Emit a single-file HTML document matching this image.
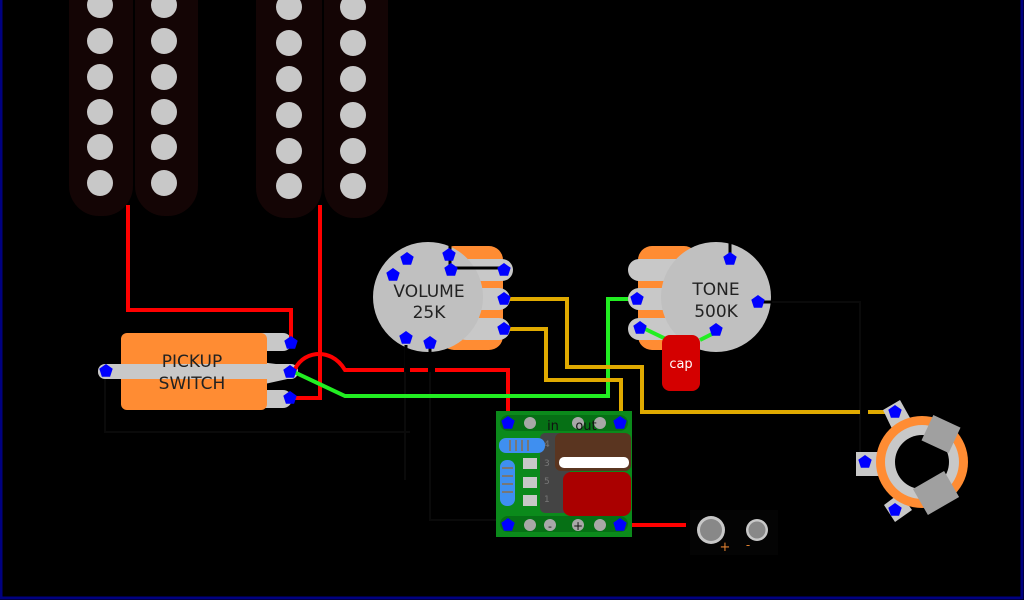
<!DOCTYPE html>
<html><head><meta charset="utf-8"><style>
html,body{margin:0;padding:0;background:#000;}
svg{display:block}
text{font-family:"DejaVu Sans","Liberation Sans",sans-serif;}
</style></head><body>
<svg width="1024" height="600" viewBox="0 0 1024 600" xmlns="http://www.w3.org/2000/svg">
<defs>
<g id="st"><polygon points="0,-7 6.7,-2.2 4.1,5.7 -4.1,5.7 -6.7,-2.2" fill="#0000ff"/><circle r="4.6" fill="#0000ff"/></g>
</defs>
<rect width="1024" height="600" fill="#000"/>
<rect x="1" y="-2" width="1021" height="600" fill="none" stroke="#000080" stroke-width="3"/>
<!-- pickups -->
<g fill="#140505">
<rect x="69" y="-40" width="64" height="256" rx="30"/>
<rect x="135" y="-40" width="63" height="256" rx="30"/>
<rect x="256" y="-40" width="66" height="258" rx="30"/>
<rect x="324" y="-40" width="64" height="258" rx="30"/>
</g>
<g fill="#c8c8c8">
<circle cx="100" cy="5" r="13"/><circle cx="100" cy="41" r="13"/><circle cx="100" cy="77" r="13"/><circle cx="100" cy="112" r="13"/><circle cx="100" cy="147" r="13"/><circle cx="100" cy="183" r="13"/>
<circle cx="164" cy="5" r="13"/><circle cx="164" cy="41" r="13"/><circle cx="164" cy="77" r="13"/><circle cx="164" cy="112" r="13"/><circle cx="164" cy="147" r="13"/><circle cx="164" cy="183" r="13"/>
<circle cx="289" cy="7" r="13"/><circle cx="289" cy="43" r="13"/><circle cx="289" cy="79" r="13"/><circle cx="289" cy="115" r="13"/><circle cx="289" cy="151" r="13"/><circle cx="289" cy="186" r="13"/>
<circle cx="353" cy="7" r="13"/><circle cx="353" cy="43" r="13"/><circle cx="353" cy="79" r="13"/><circle cx="353" cy="115" r="13"/><circle cx="353" cy="151" r="13"/><circle cx="353" cy="186" r="13"/>
</g>
<!-- thin black/dark wires -->
<g stroke="#0a0a0a" stroke-width="2" fill="none">
<path d="M105 372 V432 H410"/><path d="M405 340 V480"/><path d="M430 340 V520 H508"/>
<path d="M760 302 H860 V462"/>
</g>
<!-- pickup switch -->
<rect x="186" y="333" width="106" height="18" rx="9" fill="#c8c8c8"/>
<rect x="186" y="390" width="106" height="18" rx="9" fill="#c8c8c8"/>
<path d="M260 362 L292 366 L292 378 L260 385 Z" fill="#c8c8c8"/>
<rect x="121" y="333" width="146" height="77" rx="6" fill="#ff8c33"/>
<rect x="98" y="364" width="200" height="15" rx="7" fill="#c8c8c8"/>
<text x="192" y="367" font-size="17" text-anchor="middle" fill="#222">PICKUP</text>
<text x="192" y="389" font-size="17" text-anchor="middle" fill="#222">SWITCH</text>
<!-- red wires -->
<g stroke="#ff0000" stroke-width="4" fill="none">
<path d="M128 205 V310 H291 V343"/>
<path d="M320 205 V398 H294"/>
<path d="M294 372 C300 352 330 345 345 370 H404 M410 370 H428 M435 370 H508 V420"/>
<path d="M621 525 H686"/>
</g>
<!-- green -->
<path d="M294 372 L345 396 H608 V299 H632" stroke="#22ee22" stroke-width="4" fill="none"/>
<!-- yellow -->
<g stroke="#e0aa00" stroke-width="4" fill="none">
<path d="M503 299 H567 V367 H642 V412 H860 M868 412 H893"/>
<path d="M503 329 H546 V380 H621 V420"/>
</g>
<!-- volume pot -->
<rect x="440" y="246" width="63" height="104" rx="14" fill="#ff8c33"/>
<rect x="455" y="259" width="58" height="22" rx="11" fill="#c8c8c8"/>
<rect x="455" y="288" width="55" height="22" rx="11" fill="#c8c8c8"/>
<rect x="455" y="318" width="55" height="22" rx="11" fill="#c8c8c8"/>
<circle cx="428" cy="297" r="55" fill="#c0c0c0"/>
<path d="M450 245 V268 H503" stroke="#000" stroke-width="3" fill="none"/>
<path d="M406 345 V372 M430 345 V372" stroke="#000" stroke-width="3"/>
<text x="429" y="297" font-size="17" text-anchor="middle" fill="#222">VOLUME</text>
<text x="429" y="318" font-size="17" text-anchor="middle" fill="#222">25K</text>
<!-- tone pot -->
<rect x="638" y="246" width="60" height="104" rx="14" fill="#ff8c33"/>
<rect x="628" y="259" width="70" height="22" rx="11" fill="#c8c8c8"/>
<rect x="628" y="288" width="60" height="22" rx="11" fill="#c8c8c8"/>
<rect x="628" y="318" width="60" height="22" rx="11" fill="#c8c8c8"/>
<circle cx="716" cy="297" r="55" fill="#c0c0c0"/>
<path d="M730 230 V258 M755 302 H772" stroke="#000" stroke-width="3"/>
<text x="716" y="295" font-size="17" text-anchor="middle" fill="#222">TONE</text>
<text x="716" y="317" font-size="17" text-anchor="middle" fill="#222">500K</text>
<path d="M641 327 L668 340 M716 332 L700 340" stroke="#22ee22" stroke-width="4"/>
<rect x="662" y="335" width="38" height="56" rx="8" fill="#d40000"/>
<text x="681" y="368" font-size="13" text-anchor="middle" fill="#fff">cap</text>
<!-- jack -->
<g fill="#c8c8c8">
<path d="M883 410 L900 400 L914 425 L895 435 Z"/>
<path d="M856 452 H900 V476 H856 Z"/>
<path d="M884 505 L900 493 L912 510 L895 522 Z"/>
</g>
<circle cx="922" cy="462" r="46" fill="#ff8c33"/>
<circle cx="922" cy="462" r="37" fill="#c8c8c8"/>
<circle cx="922" cy="462" r="27" fill="#000"/>
<rect x="926" y="420" width="30" height="28" fill="#a0a0a0" transform="rotate(25 941 434)"/>
<rect x="918" y="478" width="36" height="30" fill="#a0a0a0" transform="rotate(-30 936 493)"/>
<!-- module -->
<rect x="496" y="411" width="136" height="126" fill="#0b8a1b"/>
<rect x="500" y="415" width="128" height="16" rx="8" fill="#067015"/>
<rect x="500" y="516" width="128" height="16" rx="8" fill="#067015"/>
<g fill="#a8a8a8"><circle cx="530" cy="423" r="6"/><circle cx="578" cy="423" r="6"/><circle cx="600" cy="423" r="6"/><circle cx="530" cy="525" r="6"/><circle cx="550" cy="525" r="6"/><circle cx="578" cy="525" r="6"/><circle cx="600" cy="525" r="6"/></g>
<text x="553" y="430" font-size="13" text-anchor="middle" fill="#111">in</text>
<text x="586" y="430" font-size="13" text-anchor="middle" fill="#111">out</text>
<rect x="540" y="433" width="30" height="80" rx="5" fill="#444"/>
<text x="544" y="447" font-size="9" fill="#777">4</text><text x="544" y="466" font-size="9" fill="#777">3</text><text x="544" y="484" font-size="9" fill="#777">5</text><text x="544" y="502" font-size="9" fill="#777">1</text>
<rect x="555" y="433" width="76" height="38" rx="6" fill="#5a3520"/>
<rect x="559" y="457" width="70" height="11" rx="5" fill="#fff"/>
<rect x="563" y="472" width="68" height="44" rx="8" fill="#aa0000"/>
<rect x="499" y="438" width="46" height="15" rx="7" fill="#3f8ff0"/>
<g stroke="#777" stroke-width="2"><path d="M510 440 V451 M516 440 V451 M522 440 V451 M528 440 V451"/></g>
<rect x="500" y="460" width="15" height="46" rx="7" fill="#3f8ff0"/>
<g stroke="#777" stroke-width="2"><path d="M502 468 H513 M502 476 H513 M502 484 H513 M502 492 H513"/></g>
<g fill="#c8c8c8"><rect x="523" y="458" width="14" height="11"/><rect x="523" y="477" width="14" height="11"/><rect x="523" y="495" width="14" height="11"/></g>
<text x="550" y="530" font-size="11" text-anchor="middle" fill="#111">-</text>
<text x="578" y="530" font-size="12" text-anchor="middle" fill="#111">+</text>
<!-- battery connector -->
<rect x="690" y="510" width="88" height="45" fill="#040404"/>
<circle cx="711" cy="530" r="14" fill="#c8c8c8"/><circle cx="711" cy="530" r="11" fill="#888"/>
<circle cx="757" cy="530" r="11" fill="#c8c8c8"/><circle cx="757" cy="530" r="8.5" fill="#888"/>
<text x="725" y="551" font-size="13" text-anchor="middle" fill="#e08030">+</text>
<text x="748" y="549" font-size="12" text-anchor="middle" fill="#e08030">-</text>
<!-- blue stars -->
<g>
<use href="#st" x="291" y="343"/><use href="#st" x="290" y="372"/><use href="#st" x="290" y="398"/><use href="#st" x="106" y="371"/>
<use href="#st" x="407" y="259"/><use href="#st" x="393" y="275"/><use href="#st" x="449" y="255"/><use href="#st" x="451" y="270"/>
<use href="#st" x="504" y="270"/><use href="#st" x="504" y="299"/><use href="#st" x="504" y="329"/>
<use href="#st" x="406" y="338"/><use href="#st" x="430" y="343"/>
<use href="#st" x="730" y="259"/><use href="#st" x="758" y="302"/><use href="#st" x="716" y="330"/>
<use href="#st" x="637" y="299"/><use href="#st" x="640" y="328"/>
<use href="#st" x="508" y="423"/><use href="#st" x="620" y="423"/><use href="#st" x="508" y="525"/><use href="#st" x="620" y="525"/>
<use href="#st" x="895" y="412"/><use href="#st" x="865" y="462"/><use href="#st" x="895" y="510"/>
</g>
</svg>
</body></html>
